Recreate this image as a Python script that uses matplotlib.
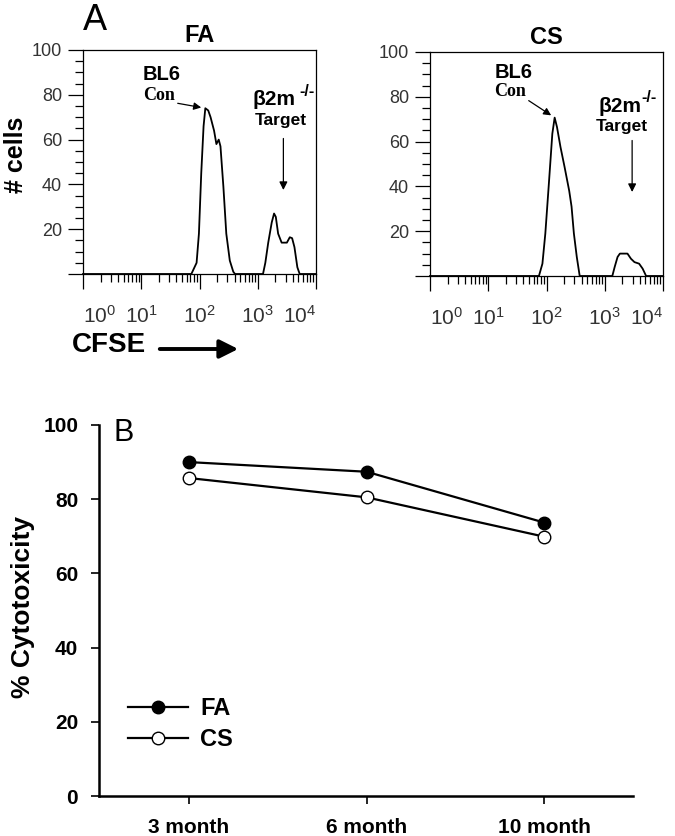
import numpy as np
import matplotlib
matplotlib.use("Agg")
import matplotlib.pyplot as plt

plt.rcParams['font.family'] = ['Liberation Sans', 'DejaVu Sans']
plt.rcParams['mathtext.fontset'] = 'custom'
plt.rcParams['mathtext.rm'] = 'Liberation Sans'

# ---------------- data ----------------
# Panel A: flow histograms (log10 CFSE, # cells)
fa_logx = [0.0, 1.86, 1.95, 1.99, 2.03, 2.07, 2.10, 2.15, 2.19, 2.25, 2.29, 2.33, 2.36,
           2.41, 2.46, 2.52, 2.58, 2.61, 3.09, 3.13, 3.18, 3.24, 3.28, 3.31, 3.35, 3.41,
           3.50, 3.55, 3.59, 3.63, 3.68, 3.72, 4.0]
fa_cells = [0, 0, 5, 18, 45, 66, 74, 73, 70, 64, 58, 60, 57,
            39, 18, 6, 1, 0, 0, 5, 14, 23, 27, 25.5, 18, 14,
            14, 16.4, 16, 12, 3, 0, 0]
cs_logx = [0.0, 1.87, 1.93, 1.98, 2.04, 2.10, 2.14, 2.18, 2.24, 2.31, 2.39, 2.43, 2.47,
           2.52, 2.57, 3.13, 3.17, 3.22, 3.26, 3.39, 3.45, 3.51, 3.59, 3.65, 3.71, 4.0]
cs_cells = [0, 0, 5.5, 19, 41, 63.5, 70.7, 66.5, 57.6, 48.7, 38, 31, 19,
            8.5, 0, 0, 4, 8.5, 10, 10, 7.7, 6.2, 5.5, 3.3, 0, 0]
target_logx = {'FA': 3.44, 'CS': 3.47}
hist_yticks = [20, 40, 60, 80, 100]
decades = [0, 1, 2, 3, 4]

# Panel B: % cytotoxicity
months = ['3 month', '6 month', '10 month']
fa_cyto = [90.0, 87.4, 73.7]
cs_cyto = [85.7, 80.5, 69.9]
b_yticks = [0, 20, 40, 60, 80, 100]

# ---------------- layout helpers ----------------
W, H = 675, 836
fig = plt.figure(figsize=(W / 100, H / 100), dpi=100)


def rect(l, t, r, b):
    return [l / W, 1 - b / H, (r - l) / W, (b - t) / H]


def P(x, y):
    return (x / W, 1 - y / H)


def hist_panel(ax, logx, cells, title):
    ax.plot(10 ** np.array(logx), cells, color='black', lw=1.3, clip_on=False, zorder=3)
    ax.set_xscale('log')
    ax.set_xlim(1, 1e4)
    ax.set_ylim(0, 100)
    ax.set_xticks([10.0 ** d for d in decades])
    ax.set_xticklabels([r'$\mathregular{10^{%d}}$' % d for d in decades],
                       fontsize=15, color='#333333')
    labs = ax.get_xticklabels()
    labs[0].set_ha('left')
    labs[-1].set_ha('right')
    ax.set_yticks([0] + hist_yticks)
    ax.set_yticklabels([''] + [str(v) for v in hist_yticks], fontsize=13, color='#333333')
    ax.set_yticks(np.arange(0, 101, 5), minor=True)
    ax.tick_params(axis='both', which='major', direction='out', length=11, width=0.9,
                   colors='black', labelcolor='#333333')
    ax.tick_params(axis='x', which='major', pad=11)
    ax.tick_params(axis='y', which='major', pad=4)
    ax.tick_params(axis='both', which='minor', direction='out', length=6, width=0.9)
    ax.tick_params(axis='x', which='minor', labelbottom=False)
    for s in ax.spines.values():
        s.set_linewidth(0.9)
    ax.set_title(title, fontsize=17, fontweight='bold', pad=6)


axFA = fig.add_axes(rect(83, 50, 316, 274))
axCS = fig.add_axes(rect(430, 52, 663, 276))
hist_panel(axFA, fa_logx, fa_cells, 'FA')
hist_panel(axCS, cs_logx, cs_cells, 'CS')

# annotations panel A
for ax, logx, cells, name, bl6, con, beta, sup, tgt in [
        (axFA, fa_logx, fa_cells, 'FA', (162, 75), (159, 96), (253, 105), (299, 91), (281, 121)),
        (axCS, cs_logx, cs_cells, 'CS', (514, 72), (510, 92), (598, 112), (641, 98), (622, 126))]:
    fig.text(*P(*bl6), 'BL6', fontsize=14.5, fontweight='bold', ha='center', va='center')
    i = int(np.argmax(cells))
    ax.annotate('Con', xy=(10 ** logx[i], cells[i]), xycoords='data',
                xytext=P(*con), textcoords='figure fraction',
                fontsize=13, fontweight='bold', family=['Liberation Serif', 'DejaVu Serif'],
                ha='center', va='center',
                arrowprops=dict(arrowstyle='-|>', color='black', lw=0.9,
                                mutation_scale=11, shrinkA=0, shrinkB=3,
                                relpos=(1.0, 0.1)))
    fig.text(*P(*beta), 'β2m', fontsize=15, fontweight='bold', ha='left', va='baseline')
    fig.text(*P(*sup), '-/-', fontsize=11.5, fontweight='bold', ha='left', va='center')
    fig.text(*P(*tgt), 'Target', fontsize=12.5, fontweight='bold', ha='center', va='center')
    tx = 10 ** target_logx[name]
    ax.annotate('', xy=(tx, 37.5), xycoords='data', xytext=(tx, 60.5), textcoords='data',
                arrowprops=dict(arrowstyle='-|>', color='black', lw=0.9,
                                mutation_scale=12, shrinkA=0, shrinkB=0))

fig.text(*P(95, 20), 'A', fontsize=26, ha='center', va='center')
fig.text(*P(16, 155), '# cells', fontsize=18, fontweight='bold', rotation=90,
         ha='center', va='center')
fig.text(*P(72, 345), 'CFSE', fontsize=20, fontweight='bold', ha='left', va='center')
fig.add_artist(matplotlib.patches.FancyArrowPatch(
    P(157, 349), P(241, 349), transform=fig.transFigure, arrowstyle='-|>',
    mutation_scale=28, lw=2.8, color='black'))

# ---------------- panel B ----------------
axB = fig.add_axes(rect(99, 425, 633, 796))
xpos = np.arange(len(months))
axB.plot(xpos, fa_cyto, color='black', lw=1.6, marker='o', ms=9,
         mfc='black', mec='black', mew=1.0, label='FA', zorder=3)
axB.plot(xpos, cs_cyto, color='black', lw=1.6, marker='o', ms=9,
         mfc='white', mec='black', mew=1.0, label='CS', zorder=3)
axB.set_xlim(-0.507, 2.50)
axB.set_ylim(0, 100)
axB.set_xticks(xpos)
axB.set_xticklabels(months, fontsize=15, fontweight='bold')
axB.set_yticks(b_yticks)
axB.set_yticklabels([str(v) for v in b_yticks], fontsize=15, fontweight='bold')
axB.spines['top'].set_visible(False)
axB.spines['right'].set_visible(False)
for s in ['left', 'bottom']:
    axB.spines[s].set_linewidth(1.8)
axB.tick_params(axis='both', direction='out', length=6, width=1.2)
axB.tick_params(axis='y', pad=9)
axB.tick_params(axis='x', pad=10)
fig.text(*P(23, 607), '% Cytotoxicity', fontsize=19, fontweight='bold', rotation=90,
         ha='center', va='center')
fig.text(*P(124, 433), 'B', fontsize=22, ha='center', va='center')
axB.legend(loc='upper left', bbox_to_anchor=((128 - 99) / 534, (796 - 697) / 371),
           frameon=False, handlelength=2.55, handletextpad=0.5,
           labelspacing=0.35, borderpad=0, borderaxespad=0, numpoints=1,
           prop={'weight': 'bold', 'size': 17})

fig.savefig('out.png', dpi=100)
